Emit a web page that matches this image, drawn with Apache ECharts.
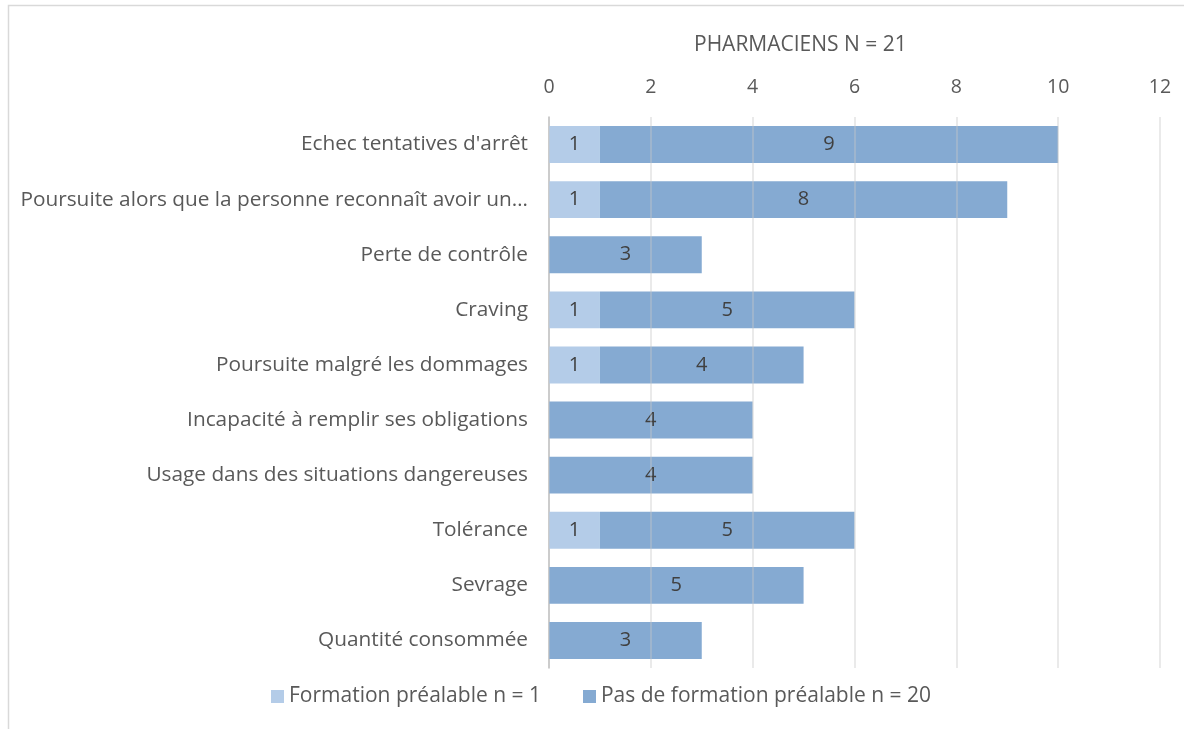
<!DOCTYPE html>
<html>
<head>
<meta charset="utf-8">
<script src="https://cdn.jsdelivr.net/npm/echarts@6/dist/echarts.min.js"></script>
<style>
  html, body { margin: 0; padding: 0; background: #fff; }
  #chart { width: 1184px; height: 729px; }
</style>
</head>
<body>
<div id="chart"></div>
<script>
// catégories, de haut en bas
const categories = [
    "Echec tentatives d'arrêt",
    "Poursuite alors que la personne reconnaît avoir un…",
    "Perte de contrôle",
    "Craving",
    "Poursuite malgré les dommages",
    "Incapacité à remplir ses obligations",
    "Usage dans des situations dangereuses",
    "Tolérance",
    "Sevrage",
    "Quantité consommée"
];
const formation = [1, 1, 0, 1, 1, 0, 0, 1, 0, 0];
const pasFormation = [9, 8, 3, 5, 4, 4, 4, 5, 5, 3];
const seriesNames = ['Formation préalable n = 1', 'Pas de formation préalable n = 20'];
const titleText = 'PHARMACIENS N = 21';

const FONT = 'Open Sans';
const TEXT = '#595959';

const chart = echarts.init(document.getElementById('chart'));

const labelOpt = {
    show: true,
    position: 'inside',
    color: '#404040',
    fontFamily: FONT,
    fontSize: 20,
    formatter: (p) => (p.value > 0 ? p.value : '')
};

const option = {
    animation: false,
    textStyle: { fontFamily: FONT },
    graphic: [
        {
            type: 'rect',
            shape: { x: 8.5, y: 5.5, width: 1200, height: 800 },
            style: { fill: 'none', stroke: '#d9d9d9', lineWidth: 1.5 },
            z: -1
        }
    ],
    title: {
        text: titleText,
        left: 689,
        top: 30,
        textStyle: { color: TEXT, fontFamily: FONT, fontSize: 21, fontWeight: 'normal' }
    },
    legend: {
        bottom: 17,
        left: 266,
        itemWidth: 13,
        itemHeight: 13,
        itemGap: 42,
        icon: 'rect',
        textStyle: { color: TEXT, fontFamily: FONT, fontSize: 21 },
        data: seriesNames
    },
    grid: {
        left: 549,
        right: 24,
        top: 117,
        bottom: 61,
        containLabel: false
    },
    xAxis: {
        type: 'value',
        position: 'top',
        min: 0,
        max: 12,
        interval: 2,
        z: 5,
        axisLine: { show: false },
        axisTick: { show: false },
        axisLabel: { color: TEXT, fontFamily: FONT, fontSize: 19.5, margin: 20 },
        splitLine: { show: true, lineStyle: { color: 'rgba(200,200,200,0.5)', width: 1.5 } }
    },
    yAxis: {
        type: 'category',
        inverse: true,
        data: categories,
        axisLine: { show: true, lineStyle: { color: '#bfbfbf', width: 1.5 } },
        axisTick: { show: false },
        axisLabel: { color: TEXT, fontFamily: FONT, fontSize: 20.8, margin: 21 }
    },
    series: [
        {
            name: seriesNames[0],
            type: 'bar',
            stack: 'total',
            barCategoryGap: '33%',
            itemStyle: { color: '#b4cce8' },
            label: labelOpt,
            data: formation
        },
        {
            name: seriesNames[1],
            type: 'bar',
            stack: 'total',
            barCategoryGap: '33%',
            itemStyle: { color: '#85aad2' },
            label: labelOpt,
            data: pasFormation
        }
    ]
};

chart.setOption(option);
</script>
</body>
</html>
